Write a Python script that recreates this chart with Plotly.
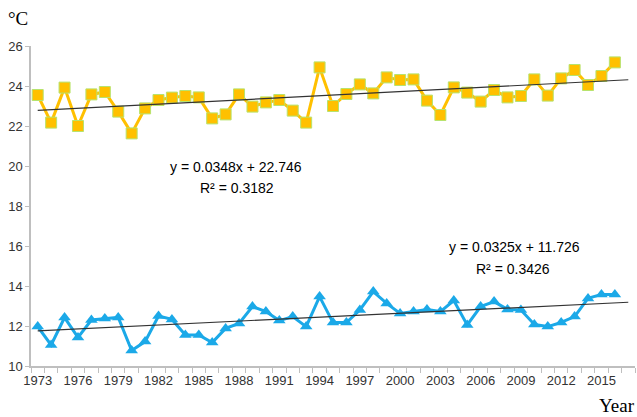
import plotly.graph_objects as go
import numpy as np

years = list(range(1973, 2017))
tmax = [23.55, 22.17, 23.92, 22.0, 23.58, 23.7, 22.72, 21.63, 22.88, 23.3,
        23.42, 23.5, 23.43, 22.38, 22.58, 23.58, 22.97, 23.18, 23.3, 22.77,
        22.17, 24.93, 23.0, 23.6, 24.08, 23.63, 24.43, 24.3, 24.33, 23.27,
        22.55, 23.93, 23.67, 23.22, 23.8, 23.43, 23.5, 24.33, 23.52, 24.38,
        24.8, 24.05, 24.5, 25.18]
tmin = [11.97, 11.05, 12.42, 11.43, 12.3, 12.38, 12.43, 10.77, 11.22, 12.5,
        12.33, 11.55, 11.55, 11.17, 11.88, 12.13, 12.97, 12.72, 12.27, 12.47,
        11.97, 13.47, 12.17, 12.17, 12.8, 13.72, 13.13, 12.63, 12.72, 12.83,
        12.72, 13.27, 12.05, 12.97, 13.22, 12.83, 12.8, 12.08, 11.97, 12.18,
        12.47, 13.38, 13.58, 13.58]

# trend line equations as printed on the chart (x = category index 1..45)
max_slope, max_intercept = 0.0348, 22.746
min_slope, min_intercept = 0.0325, 11.726
trend_years = list(range(1973, 2018))
label_years = list(range(1973, 2016, 3))
y_ticks = list(range(10, 27, 2))

idx = np.arange(1, len(trend_years) + 1)
max_trend = max_slope * idx + max_intercept
min_trend = min_slope * idx + min_intercept

fig = go.Figure()
fig.add_trace(go.Scatter(x=years, y=tmax, mode="lines+markers",
                         line=dict(color="#FFC000", width=3),
                         marker=dict(symbol="square", size=11, color="#FFC000",
                                     line=dict(color="#B7E36E", width=1)),
                         showlegend=False))
fig.add_trace(go.Scatter(x=years, y=tmin, mode="lines+markers",
                         line=dict(color="#1BA9E8", width=3),
                         marker=dict(symbol="triangle-up", size=11, color="#1BA9E8"),
                         showlegend=False))
fig.add_trace(go.Scatter(x=trend_years, y=max_trend, mode="lines",
                         line=dict(color="#333333", width=1.2), showlegend=False))
fig.add_trace(go.Scatter(x=trend_years, y=min_trend, mode="lines",
                         line=dict(color="#333333", width=1.2), showlegend=False))

tick_font = dict(family="Liberation Sans, Arial, sans-serif", size=13, color="#333333")
eq_font = dict(family="Liberation Sans, Arial", size=14, color="#000")
unit_font = dict(family="Liberation Serif, Times New Roman", size=19, color="#000")
fig.update_layout(
    width=637, height=417,
    margin=dict(l=31, r=2, t=46, b=51),
    plot_bgcolor="white", paper_bgcolor="white",
    xaxis=dict(range=[1972.5, 2017.5], tickmode="array", tickvals=label_years,
               ticktext=[str(y) for y in label_years], ticks="", showgrid=False,
               showline=True, linecolor="#BFBFBF", linewidth=1.5, zeroline=False,
               tickfont=tick_font, ticklabelstandoff=2,
               minor=dict(tickmode="linear", tick0=1972.5, dtick=1, ticks="outside",
                          ticklen=5, tickcolor="#BFBFBF", tickwidth=1, showgrid=False)),
    yaxis=dict(range=[10, 26], tickmode="array", tickvals=y_ticks, ticks="outside",
               ticklen=4, tickcolor="#BFBFBF", showgrid=False, showline=True,
               linecolor="#BFBFBF", linewidth=1.5, zeroline=False, tickfont=tick_font),
    annotations=[
        dict(text="y = 0.0348x + 22.746", x=1987.8, y=19.95, xref="x", yref="y",
             showarrow=False, font=eq_font),
        dict(text="R² = 0.3182", x=1987.85, y=18.9, xref="x", yref="y",
             showarrow=False, font=eq_font),
        dict(text="y = 0.0325x + 11.726", x=2008.55, y=15.95, xref="x", yref="y",
             showarrow=False, font=eq_font),
        dict(text="R² = 0.3426", x=2008.4, y=14.85, xref="x", yref="y",
             showarrow=False, font=eq_font),
        dict(text="°C", x=-0.0215, y=1.0875, xref="paper", yref="paper",
             xanchor="center", yanchor="middle", showarrow=False, font=unit_font),
        dict(text="Year", x=0.97, y=-0.122, xref="paper", yref="paper",
             xanchor="center", yanchor="middle", showarrow=False, font=unit_font),
    ],
)
fig.write_html("out.html", config={"displayModeBar": False},
               post_script="document.body.style.margin='0';")
